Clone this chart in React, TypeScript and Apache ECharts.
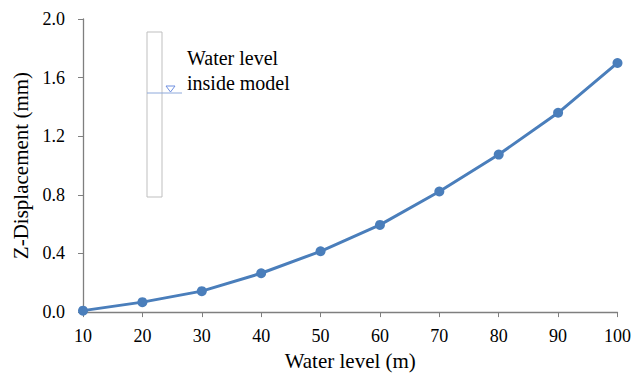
import React, { useEffect, useRef } from "react";
import * as echarts from "echarts";

const waterLevels = [10, 20, 30, 40, 50, 60, 70, 80, 90, 100];
const zDisplacement = [0.01, 0.068, 0.143, 0.265, 0.415, 0.595, 0.823, 1.075, 1.36, 1.7];
const xAxisTitle = "Water level (m)";
const yAxisTitle = "Z-Displacement (mm)";
const insetLines = ["Water level", "inside model"];

export default function App() {
  const ref = useRef<HTMLDivElement>(null);
  useEffect(() => {
    if (!ref.current) return;
    const chart = echarts.init(ref.current, null, { renderer: "svg" });
    const font = "Times New Roman, Liberation Serif, DejaVu Serif, serif";
    const axisColor = "#7f7f7f";
    chart.setOption({
      animation: false,
      textStyle: { fontFamily: font },
      grid: { left: 83, right: 13, top: 19, bottom: 63 },
      xAxis: {
        type: "value",
        min: 10,
        max: 100,
        interval: 10,
        name: xAxisTitle,
        nameLocation: "middle",
        nameGap: 36,
        nameTextStyle: { fontFamily: font, fontSize: 21, color: "#000" },
        axisLine: { show: true, lineStyle: { color: axisColor, width: 1.3 } },
        axisTick: { show: true, length: 5, lineStyle: { color: axisColor } },
        axisLabel: { fontFamily: font, fontSize: 18, color: "#000", margin: 15 },
        splitLine: { show: false },
      },
      yAxis: {
        type: "value",
        min: 0,
        max: 2,
        interval: 0.4,
        name: yAxisTitle,
        nameLocation: "middle",
        nameGap: 47,
        nameTextStyle: { fontFamily: font, fontSize: 21, color: "#000" },
        axisLine: { show: true, lineStyle: { color: axisColor, width: 1.3 } },
        axisTick: { show: true, length: 5, lineStyle: { color: axisColor } },
        axisLabel: {
          fontFamily: font,
          fontSize: 18,
          color: "#000",
          margin: 18,
          formatter: (v: number) => v.toFixed(1),
        },
        splitLine: { show: false },
      },
      series: [
        {
          type: "line",
          data: waterLevels.map((x, i) => [x, zDisplacement[i]]),
          symbol: "circle",
          symbolSize: 10,
          lineStyle: { color: "#4a7ebb", width: 3 },
          itemStyle: { color: "#4a7ebb" },
        },
      ],
      graphic: [
        {
          type: "rect",
          shape: { x: 147, y: 32, width: 15, height: 165 },
          style: { fill: "#fff", stroke: "#bfbfbf", lineWidth: 1 },
        },
        {
          type: "line",
          shape: { x1: 147, y1: 93, x2: 182, y2: 93 },
          style: { stroke: "#8ea9db", lineWidth: 1 },
        },
        {
          type: "polygon",
          shape: { points: [[166, 86], [175, 86], [170.5, 92]] },
          style: { fill: "none", stroke: "#6f8fe0", lineWidth: 1 },
        },
        {
          type: "text",
          x: 187,
          y: 45,
          style: {
            text: insetLines.join("\n"),
            fontFamily: font,
            fontSize: 20,
            lineHeight: 25,
            fill: "#000",
          },
        },
      ],
    });
    return () => chart.dispose();
  }, []);
  return (
    <div
      ref={ref}
      style={{ position: "absolute", left: 0, top: 0, width: 634, height: 376 }}
    />
  );
}
